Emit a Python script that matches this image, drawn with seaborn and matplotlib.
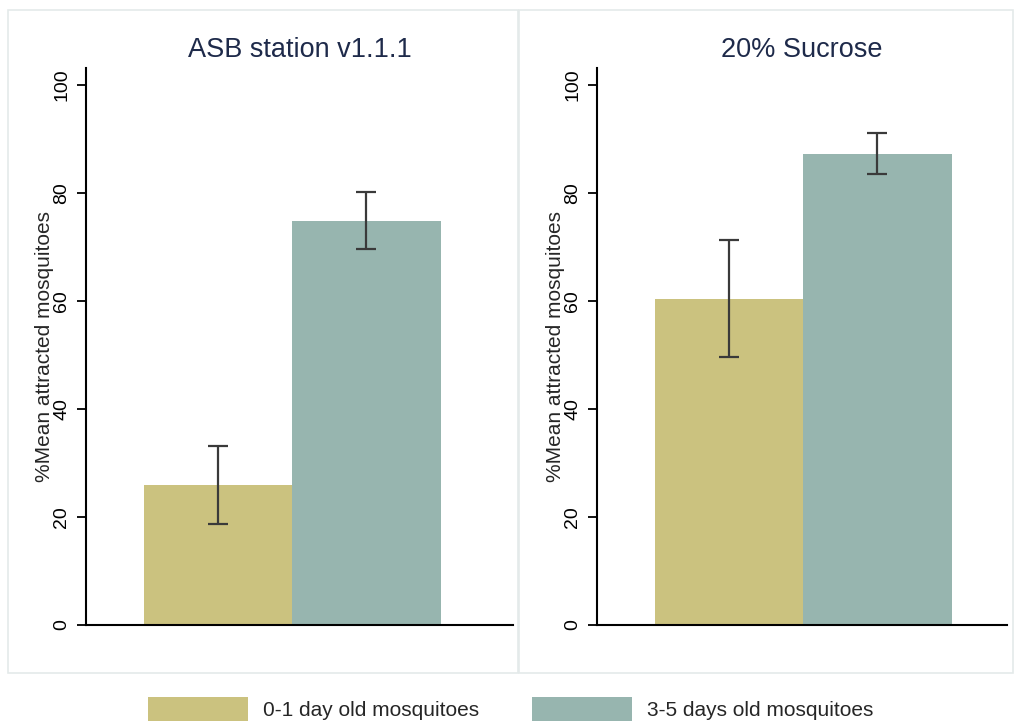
import matplotlib
matplotlib.use("Agg")
import matplotlib.pyplot as plt
import seaborn as sns
import pandas as pd
import numpy as np
from matplotlib.patches import Rectangle, Patch

panels = ["ASB station v1.1.1", "20% Sucrose"]
ages = ["0-1 day old mosquitoes", "3-5 days old mosquitoes"]
means_asb = [25.9, 74.8]
lo_asb = [18.7, 69.6]
hi_asb = [33.1, 80.2]
means_suc = [60.4, 87.2]
lo_suc = [49.6, 83.5]
hi_suc = [71.2, 91.1]
colors = ["#cbc27f", "#97b5af"]
yticks = [0, 20, 40, 60, 80, 100]

sns.set_theme(style="white")
plt.rcParams['font.family'] = ['Liberation Sans', 'DejaVu Sans']

fig = plt.figure(figsize=(10.14, 7.22), dpi=100)
W, H = 1014, 722

def fx(px): return px / W
def fy(py): return 1 - py / H

# panel frames
for (x0, x1) in [(8, 518), (519, 1013)]:
    fig.patches.append(Rectangle((fx(x0), fy(673)), fx(x1 - x0), (673 - 10) / H,
                                 transform=fig.transFigure, facecolor="white",
                                 edgecolor="#e4eaea", linewidth=1.2, zorder=-5))

axes_px = [(86, 513), (597, 1007)]
data_sets = [(means_asb, lo_asb, hi_asb), (means_suc, lo_suc, hi_suc)]
bar_center_px = [292, 803]
px_per_unit = 297 / 0.8

for i, (title, (m, lo, hi)) in enumerate(zip(panels, data_sets)):
    x0, x1 = axes_px[i]
    ax = fig.add_axes([fx(x0), fy(625), fx(x1 - x0), (625 - 68) / H])
    ax.set_zorder(2)
    ax.set_facecolor("none")
    df = pd.DataFrame({"grp": ["g", "g"], "age": ages, "mean": m})
    sns.barplot(data=df, x="grp", y="mean", hue="age", hue_order=ages,
                palette=colors, errorbar=None, width=0.8, saturation=1,
                linewidth=0, ax=ax, legend=False)
    bars = [p for p in ax.patches]
    for b, mv, l, h in zip(bars, m, lo, hi):
        cx = b.get_x() + b.get_width() / 2
        ax.errorbar(cx, mv, yerr=[[mv - l], [h - mv]], fmt="none",
                    ecolor="#3a3a3a", elinewidth=1.6, capsize=7, capthick=1.6, zorder=5)
    c = bar_center_px[i]
    ax.set_xlim(-(c - x0) / px_per_unit, (x1 - c) / px_per_unit)
    ax.set_ylim(0, 103.1)
    ax.set_yticks(yticks)
    ax.set_yticklabels([str(t) for t in yticks], rotation=90, va="center", fontsize=14)
    ax.set_xticks([])
    ax.set_xlabel("")
    ax.set_ylabel("%Mean attracted mosquitoes", fontsize=15, labelpad=-1)
    ax.tick_params(axis="y", direction="out", length=6.5, width=1.3, left=True, pad=5, colors="black")
    for s in ["top", "right"]:
        ax.spines[s].set_visible(False)
    for s in ["left", "bottom"]:
        ax.spines[s].set_visible(True)
        ax.spines[s].set_color("black")
        ax.spines[s].set_linewidth(1.5)
    ax.set_title(title, fontsize=19.5, color="#1e2a4a", pad=8)

handles = [Patch(facecolor=c, edgecolor="none", label=a) for c, a in zip(colors, ages)]
fig.legend(handles=handles, loc="center", bbox_to_anchor=(fx(511), fy(709)),
           ncol=2, frameon=False, fontsize=15, handlelength=4.8, handleheight=1.35,
           handletextpad=0.72, columnspacing=2.55)

fig.savefig("out.png", dpi=100, facecolor="white")
